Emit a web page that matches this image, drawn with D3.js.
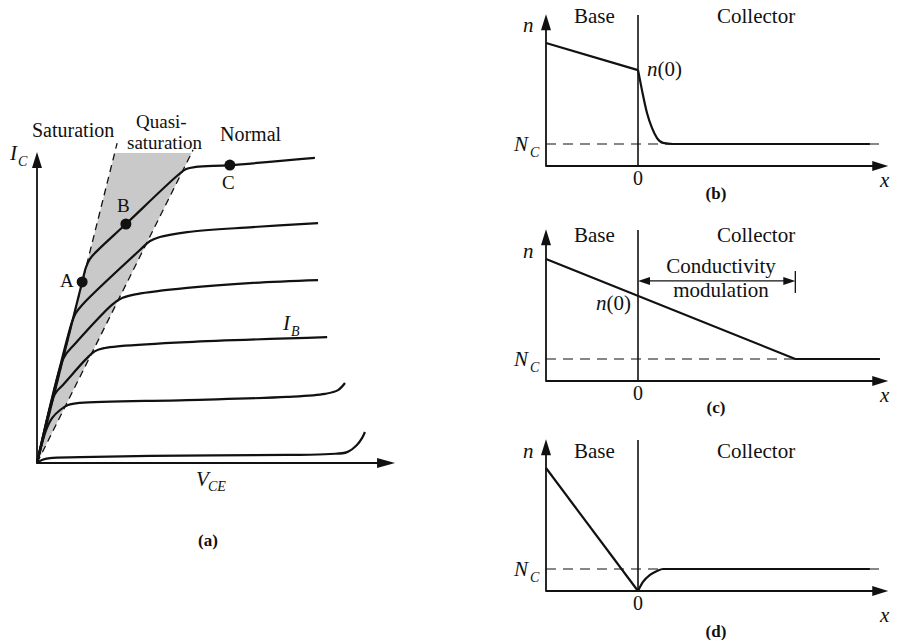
<!DOCTYPE html>
<html><head><meta charset="utf-8">
<script src="https://cdn.jsdelivr.net/npm/d3@7/dist/d3.min.js"></script>
<style>
body{margin:0;background:#fff}
text{font-family:"Liberation Serif","Times New Roman",serif;fill:#111}
</style>
</head><body>
<svg id="chart" width="897" height="640"></svg>
<script>
// ---------- Panel (a): I_C vs V_CE output characteristics (V_CE, I_C in arbitrary units) ----------
const curveIB1 = [[0,0],[0.14,0.10],[0.37,0.16],[1.23,0.19],[3.23,0.23],[7.14,0.26],[8.37,0.29],[8.86,0.35],[9.14,0.58],[9.29,0.81],[9.37,1.00]];
const curveIB2 = [[0,0],[0.26,1.06],[0.43,1.45],[0.66,1.71],[0.89,1.87],[1.23,1.94],[4.29,2.03],[7.14,2.13],[8.23,2.23],[8.60,2.35],[8.80,2.58]];
const curveIB3 = [[0,0],[0.46,2.10],[0.57,2.32],[0.74,2.52],[1.40,3.35],[1.66,3.61],[1.94,3.71],[2.37,3.77],[4.29,3.90],[8.29,4.06]];
const curveIB4 = [[0,0],[0.71,3.26],[0.83,3.52],[1.00,3.74],[2.14,5.10],[2.43,5.32],[2.86,5.45],[4.29,5.65],[6.17,5.81],[8.03,5.90]];
const curveIB5 = [[0,0],[1.00,4.55],[1.11,4.84],[1.29,5.10],[2.94,6.87],[3.23,7.16],[3.51,7.29],[4.29,7.45],[6.17,7.61],[8.03,7.74]];
const curveIB6 = [[0,0],[1.29,5.84],[1.40,6.32],[1.51,6.58],[1.69,6.81],[2.54,7.71],[4.03,9.29],[4.26,9.48],[4.54,9.55],[5.51,9.61],[7.94,9.84]];
const ibCurves = [curveIB1, curveIB2, curveIB3, curveIB4, curveIB5, curveIB6];
const satLeftLine = [[0,0],[2.29,10.32]];
const satRightLine = [[0,0],[4.46,10.10]];
const quasiRegion = [[0,0],[2.22,10],[4.42,10]];
const opPoints = [{name:"A", v:1.29, i:5.84}, {name:"B", v:2.54, i:7.71}, {name:"C", v:5.51, i:9.61}];
const regionLabels = ["Saturation", "Quasi-", "saturation", "Normal"];

// ---------- Panels (b)-(d): electron density n(x) ----------
const NC = 1.0;
const bBase = [[-1,5.59],[0,4.36]];
const bCollector = [[0,4.36],[0.043,3.45],[0.098,2.41],[0.152,1.73],[0.207,1.27],[0.272,1.05],[0.38,1.0],[2.52,1.0]];
const cProfile = [[-1,5.55],[1.71,1.0],[2.63,1.0]];
const cModulation = [0, 1.71];
const dBase = [[-1,5.59],[0,0]];
const dCollector = [[0,0],[0.054,0.41],[0.13,0.73],[0.207,0.91],[0.272,1.0],[0.38,1.0],[2.52,1.0]];
const panelLetters = ["(a)","(b)","(c)","(d)"];

const svg = d3.select("#chart");
const ink = "#111";

function arrow(g, x1, y1, x2, y2, len, hw, sw) {
  const dx = x2 - x1, dy = y2 - y1, L = Math.hypot(dx, dy);
  const ux = dx / L, uy = dy / L;
  const bx = x2 - ux * len, by = y2 - uy * len;
  g.append("line").attr("x1", x1).attr("y1", y1).attr("x2", bx + ux * 2).attr("y2", by + uy * 2)
    .attr("stroke", ink).attr("stroke-width", sw);
  g.append("path").attr("d", `M${x2},${y2}L${bx - uy * hw},${by + ux * hw}L${bx + uy * hw},${by - ux * hw}Z`)
    .attr("fill", ink);
}
function label(g, x, y, t, size, opts = {}) {
  const el = g.append("text").attr("x", x).attr("y", y).attr("font-size", size).text(t);
  if (opts.italic) el.attr("font-style", "italic");
  if (opts.bold) el.attr("font-weight", "bold");
  if (opts.anchor) el.attr("text-anchor", opts.anchor);
  return el;
}

// ---------- Panel (a) ----------
const gA = svg.append("g");
const xA = d3.scaleLinear().domain([0, 10]).range([37, 387]);
const yA = d3.scaleLinear().domain([0, 10]).range([463, 153]);
const lineA = d3.line().x(d => xA(d[0])).y(d => yA(d[1]));

gA.append("path").attr("d", lineA(quasiRegion) + "Z").attr("fill", "#c9c9c9");
[satLeftLine, satRightLine].forEach(s => {
  gA.append("path").attr("d", lineA(s)).attr("fill", "none").attr("stroke", ink)
    .attr("stroke-width", 1.3).attr("stroke-dasharray", "7,5");
});
arrow(gA, xA(0), yA(-0.03), xA(0), yA(10.03), 16, 5, 1.8);
arrow(gA, xA(0), yA(0), xA(10.23), yA(0), 18, 5, 1.8);

const curveGen = d3.line().x(d => xA(d[0])).y(d => yA(d[1])).curve(d3.curveCatmullRom.alpha(0.5));
ibCurves.forEach(c => {
  gA.append("path").attr("d", curveGen(c)).attr("fill", "none").attr("stroke", ink)
    .attr("stroke-width", 2.2).attr("stroke-linejoin", "round");
});
gA.selectAll("circle.op").data(opPoints).join("circle").attr("class", "op")
  .attr("cx", d => xA(d.v)).attr("cy", d => yA(d.i)).attr("r", 5.5).attr("fill", ink);
label(gA, 60, 287, "A", 19);
label(gA, 117, 212, "B", 19);
label(gA, 222, 189, "C", 19);

label(gA, 32, 137, regionLabels[0], 20);
label(gA, 136, 128, regionLabels[1], 19);
label(gA, 127, 149, regionLabels[2], 19);
label(gA, 220, 141, regionLabels[3], 20);

label(gA, 10, 160, "I", 21, {italic: true});
label(gA, 18, 166, "C", 14, {italic: true});
label(gA, 283, 330, "I", 21, {italic: true});
label(gA, 291, 336, "B", 14, {italic: true});
label(gA, 196, 486, "V", 21, {italic: true});
label(gA, 208, 491, "CE", 14, {italic: true});
label(gA, 208, 546, panelLetters[0], 17, {bold: true, anchor: "middle"});

// ---------- Panels (b)-(d) ----------
const xR = d3.scaleLinear().domain([-1, 0]).range([546, 638]);
function panel(y0, cfg) {
  const g = svg.append("g");
  const y = d3.scaleLinear().domain([0, 7]).range([y0, y0 - 154]);
  const ln = d3.line().x(d => xR(d[0])).y(d => y(d[1]));
  // NC dashed
  g.append("line").attr("x1", xR(-1)).attr("x2", xR(cfg.ncEnd)).attr("y1", y(NC)).attr("y2", y(NC))
    .attr("stroke", ink).attr("stroke-width", 1.2).attr("stroke-dasharray", "10,7");
  // junction line
  g.append("line").attr("x1", xR(0)).attr("x2", xR(0)).attr("y1", y(0)).attr("y2", y(6.86))
    .attr("stroke", ink).attr("stroke-width", 1.6);
  // axes
  arrow(g, xR(-1), y(-0.03), xR(-1), y(6.9), 16, 5, 1.8);
  arrow(g, xR(-1), y(0), xR(2.72), y(0), 16, 5, 1.8);
  cfg.lines.forEach(l => {
    g.append("path").attr("d", (l.smooth ? ln.curve(d3.curveMonotoneX) : ln.curve(d3.curveLinear))(l.data))
      .attr("fill", "none").attr("stroke", ink).attr("stroke-width", 2.2).attr("stroke-linejoin", "round");
  });
  label(g, 523, cfg.topY + (cfg.nDy || 0), "n", 21, {italic: true});
  label(g, 574, cfg.topY, "Base", 21);
  label(g, 717, cfg.topY, "Collector", 21);
  label(g, 514, y(NC) + 7, "N", 21, {italic: true});
  label(g, 530, y(NC) + 13, "C", 14, {italic: true});
  label(g, xR(0), cfg.zeroY, "0", 20, {anchor: "middle"});
  label(g, 880, cfg.xY, "x", 21, {italic: true});
  label(g, 716, cfg.letterY, cfg.letter, 17, {bold: true, anchor: "middle"});
  return {g, y};
}

const pb = panel(166, {ncEnd: 2.63, topY: 23, nDy: 9, zeroY: 185, xY: 187, letterY: 199, letter: panelLetters[1],
  lines: [{data: bBase}, {data: bCollector, smooth: true}]});
const n0b = label(pb.g, 647, 76, "", 21);
n0b.append("tspan").attr("font-style", "italic").text("n");
n0b.append("tspan").text("(0)");

const pc = panel(381, {ncEnd: 1.71, topY: 242, nDy: 16, zeroY: 400, xY: 402, letterY: 413, letter: panelLetters[2],
  lines: [{data: cProfile}]});
const n0c = label(pc.g, 596, 310, "", 21);
n0c.append("tspan").attr("font-style", "italic").text("n");
n0c.append("tspan").text("(0)");
{
  const yy = pc.y(4.55);
  const xl = xR(cModulation[0]), xr = xR(cModulation[1]);
  pc.g.append("line").attr("x1", xl + 10).attr("x2", xr - 10).attr("y1", yy).attr("y2", yy).attr("stroke", ink).attr("stroke-width", 1.3);
  pc.g.append("path").attr("d", `M${xl},${yy}L${xl + 12},${yy - 4}L${xl + 12},${yy + 4}Z`).attr("fill", ink);
  pc.g.append("path").attr("d", `M${xr},${yy}L${xr - 12},${yy - 4}L${xr - 12},${yy + 4}Z`).attr("fill", ink);
  pc.g.append("line").attr("x1", xr).attr("x2", xr).attr("y1", yy - 10).attr("y2", yy + 12).attr("stroke", ink).attr("stroke-width", 1.3);
  label(pc.g, 721, 273, "Conductivity", 21, {anchor: "middle"});
  label(pc.g, 721, 297, "modulation", 21, {anchor: "middle"});
}

panel(591, {ncEnd: 2.63, topY: 458, nDy: 0, zeroY: 610, xY: 622, letterY: 637, letter: panelLetters[3],
  lines: [{data: dBase}, {data: dCollector, smooth: true}]});
</script>
</body></html>
